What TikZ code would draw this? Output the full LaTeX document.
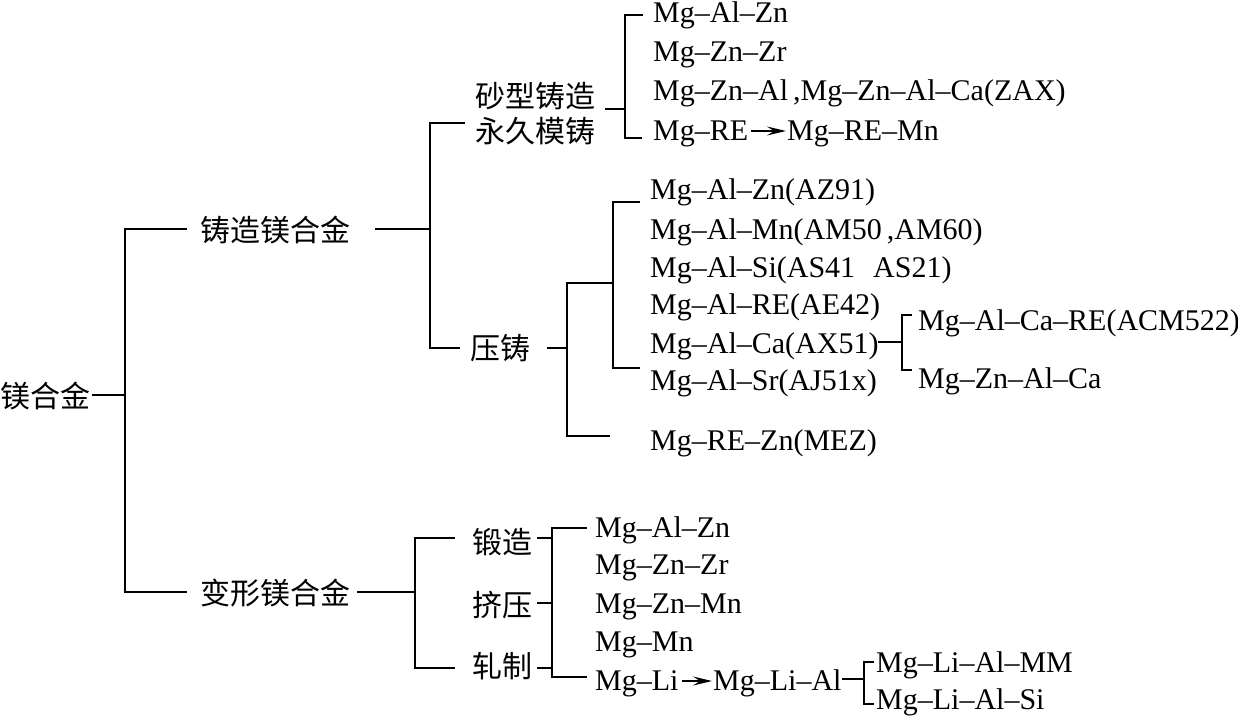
\documentclass[tikz,border=0pt]{standalone}
\usepackage{fontspec}
\setmainfont{Liberation Serif}
\newfontfamily\cjk{Noto Sans CJK SC}
\usetikzlibrary{arrows.meta}
\begin{document}
\begin{tikzpicture}[x=1pt,y=-1pt,
  lbl/.style={anchor=base west,inner sep=0pt,font=\fontsize{30}{30}\selectfont},
  zh/.style={anchor=base west,inner sep=0pt,font=\cjk\fontsize{30}{30}\selectfont},
  ln/.style={line width=1.6pt},
  arr/.style={line width=1.6pt,-{Stealth[length=19pt,width=9pt,inset=7pt]}}]
\useasboundingbox (0,0) rectangle (1238,717);
% ---------- text nodes ----------
\node[zh] (root) at (0,407) {镁合金};
\node[zh] (cast) at (200,241) {铸造镁合金};
\node[zh] (wrought) at (200,604) {变形镁合金};
\node[zh] (sand) at (475,107) {砂型铸造};
\node[zh] (perm) at (475,142) {永久模铸};
\node[zh] (die) at (470,359) {压铸};
\node[zh] (forge) at (472,553) {锻造};
\node[zh] (extr) at (472,616) {挤压};
\node[zh] (roll) at (472,677) {轧制};
% sand / permanent mould items
\node[lbl] (s1) at (653,23) {Mg–Al–Zn};
\node[lbl] (s2) at (653,61) {Mg–Zn–Zr};
\node[lbl] (s3) at (653,100) {Mg–Zn–Al\,,Mg–Zn–Al–Ca(ZAX)};
\node[lbl] (s4) at (653,140) {Mg–RE};
\node[lbl] (s5) at (787,140) {Mg–RE–Mn};
% die casting items
\node[lbl] (d1) at (650,199) {Mg–Al–Zn(AZ91)};
\node[lbl] (d2) at (650,239) {Mg–Al–Mn(AM50\,,AM60)};
\node[lbl] (d3) at (650,277) {Mg–Al–Si(AS41\hspace{0.6em}AS21)};
\node[lbl] (d4) at (650,314) {Mg–Al–RE(AE42)};
\node[lbl] (d5) at (650,353) {Mg–Al–Ca(AX51)};
\node[lbl] (d6) at (650,390) {Mg–Al–Sr(AJ51x)};
\node[lbl] (d7) at (650,450) {Mg–RE–Zn(MEZ)};
\node[lbl] (c1) at (918,330) {Mg–Al–Ca–RE(ACM522)};
\node[lbl] (c2) at (918,388) {Mg–Zn–Al–Ca};
% wrought items
\node[lbl] (w1) at (595,537) {Mg–Al–Zn};
\node[lbl] (w2) at (595,574) {Mg–Zn–Zr};
\node[lbl] (w3) at (595,613) {Mg–Zn–Mn};
\node[lbl] (w4) at (595,651) {Mg–Mn};
\node[lbl] (w5) at (595,690) {Mg–Li};
\node[lbl] (w6) at (713,690) {Mg–Li–Al};
\node[lbl] (l1) at (876,672) {Mg–Li–Al–MM};
\node[lbl] (l2) at (876,709) {Mg–Li–Al–Si};
% ---------- junction coordinates ----------
\coordinate (r0) at (92,395);
\coordinate (rv) at (125,395);
\coordinate (rt) at (125,229);
\coordinate (rb) at (125,592);
\coordinate (ct) at (187,229);
\coordinate (wt) at (187,592);
\coordinate (c0) at (375,229);
\coordinate (cv) at (430,229);
\coordinate (cvt) at (430,123);
\coordinate (cvb) at (430,348);
\coordinate (spe) at (465,123);
\coordinate (die0) at (460,348);
\coordinate (sp0) at (605,109);
\coordinate (sv) at (625,109);
\coordinate (svt) at (625,15);
\coordinate (svb) at (625,138);
\coordinate (s1e) at (643,15);
\coordinate (s4e) at (642,138);
\coordinate (dd0) at (547,348);
\coordinate (dv) at (567,348);
\coordinate (dvt) at (567,283);
\coordinate (dvb) at (567,436);
\coordinate (dv2t) at (613,283);
\coordinate (d7e) at (610,436);
\coordinate (ev) at (613,202);
\coordinate (evb) at (613,368);
\coordinate (d1e) at (640,202);
\coordinate (d6e) at (640,368);
\coordinate (x0) at (878,342);
\coordinate (xv) at (902,342);
\coordinate (xvt) at (902,315);
\coordinate (xvb) at (902,370);
\coordinate (x1e) at (912,315);
\coordinate (x2e) at (912,370);
\coordinate (w0) at (357,592);
\coordinate (wv) at (415,592);
\coordinate (wvt) at (415,538);
\coordinate (wvb) at (415,668);
\coordinate (fe) at (455,538);
\coordinate (re) at (455,668);
\coordinate (f0) at (537,538);
\coordinate (e0) at (537,603);
\coordinate (g0) at (537,668);
\coordinate (pf) at (552,538);
\coordinate (pe) at (552,603);
\coordinate (pg) at (552,668);
\coordinate (pvt) at (552,528);
\coordinate (pvb) at (552,677);
\coordinate (w1e) at (587,528);
\coordinate (w5e) at (587,677);
\coordinate (m0) at (842,679);
\coordinate (mv) at (864,679);
\coordinate (mvt) at (864,662);
\coordinate (mvb) at (864,704);
\coordinate (m1e) at (874,662);
\coordinate (m2e) at (874,704);
% ---------- connectors ----------
\draw[ln] (r0) -- (rv);
\draw[ln] (ct) -- (rt) -- (rb) -- (wt);
\draw[ln] (c0) -- (cv);
\draw[ln] (spe) -- (cvt) -- (cvb) -- (die0);
\draw[ln] (sp0) -- (sv);
\draw[ln] (s1e) -- (svt) -- (svb) -- (s4e);
\draw[arr] ([xshift=3pt,yshift=9pt]s4.base east) -- ([xshift=-1pt,yshift=9pt]s5.base west);
\draw[ln] (dd0) -- (dv);
\draw[ln] (dv2t) -- (dvt) -- (dvb) -- (d7e);
\draw[ln] (d1e) -- (ev) -- (evb) -- (d6e);
\draw[ln] (x0) -- (xv);
\draw[ln] (x1e) -- (xvt) -- (xvb) -- (x2e);
\draw[ln] (w0) -- (wv);
\draw[ln] (fe) -- (wvt) -- (wvb) -- (re);
\draw[ln] (f0) -- (pf);
\draw[ln] (e0) -- (pe);
\draw[ln] (g0) -- (pg);
\draw[ln] (w1e) -- (pvt) -- (pvb) -- (w5e);
\draw[arr] ([xshift=3pt,yshift=9pt]w5.base east) -- ([xshift=-1pt,yshift=9pt]w6.base west);
\draw[ln] (m0) -- (mv);
\draw[ln] (m1e) -- (mvt) -- (mvb) -- (m2e);
\end{tikzpicture}
\end{document}
